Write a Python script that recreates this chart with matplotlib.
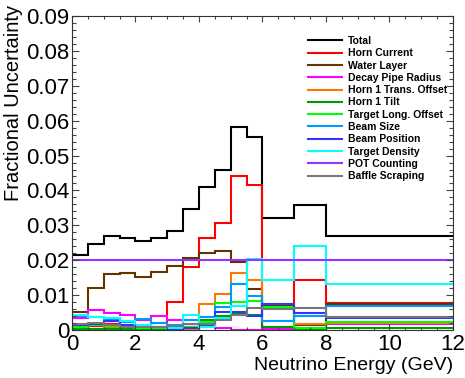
import matplotlib
matplotlib.use('Agg')
import matplotlib.pyplot as plt
import numpy as np
from matplotlib.ticker import MultipleLocator, FuncFormatter

plt.rcParams['font.family'] = ['Liberation Sans', 'DejaVu Sans']

# bin edges (GeV): 0.5 GeV bins up to 6, then 6-7, 7-8, 8-12
edges = [0, 0.5, 1, 1.5, 2, 2.5, 3, 3.5, 4, 4.5, 5, 5.5, 6, 7, 8, 12]

total = [0.0215, 0.0246, 0.0268, 0.0265, 0.0256, 0.0264, 0.0284, 0.0347,
         0.0409, 0.0458, 0.0582, 0.0553, 0.0320, 0.0359, 0.0270]
horn_current = [0.0009, 0.0011, 0.0017, 0.0009, 0.0004, 0.0006, 0.0079, 0.0181,
                0.0263, 0.0306, 0.0442, 0.0415, 0.0003, 0.0143, 0.0078]
water_layer = [0.0052, 0.0121, 0.0160, 0.0162, 0.0153, 0.0165, 0.0183, 0.0207,
               0.0221, 0.0226, 0.0194, 0.0117, 0.0069, 0.0015, 0.0074]
decay_pipe = [0.0034, 0.0056, 0.0050, 0.0042, 0.0028, 0.0040, 0.0028, 0.0010,
              0.0008, 0.0006, 0.0001, 0.0001, 0.0002, 0.0003, 0.0017]
horn1_trans = [0.0003, 0.0003, 0.0005, 0.0004, 0.0006, 0.0003, 0.0005, 0.0003,
               0.0074, 0.0102, 0.0164, 0.0143, 0.0008, 0.0017, 0.0020]
horn1_tilt = [0.0002, 0.0003, 0.0002, 0.0003, 0.0002, 0.0003, 0.0004, 0.0009,
              0.0028, 0.0041, 0.0045, 0.0042, 0.0010, 0.0004, 0.0005]
target_long = [0.0008, 0.0014, 0.0011, 0.0008, 0.0006, 0.0006, 0.0004, 0.0010,
               0.0022, 0.0076, 0.0079, 0.0083, 0.0065, 0.0007, 0.0023]
beam_size = [0.0040, 0.0036, 0.0028, 0.0022, 0.0032, 0.0020, 0.0014, 0.0028,
             0.0036, 0.0065, 0.0132, 0.0098, 0.0026, 0.0041, 0.0070]
beam_position = [0.0013, 0.0016, 0.0027, 0.0014, 0.0012, 0.0008, 0.0004, 0.0006,
                 0.0012, 0.0052, 0.0052, 0.0040, 0.0074, 0.0050, 0.0033]
target_density = [0.0042, 0.0037, 0.0033, 0.0025, 0.0015, 0.0010, 0.0006, 0.0044,
                  0.0010, 0.0035, 0.0068, 0.0203, 0.0143, 0.0241, 0.0131]
pot_counting = [0.0200] * 15
baffle = [0.0017, 0.0019, 0.0015, 0.0010, 0.0008, 0.0010, 0.0012, 0.0016,
          0.0018, 0.0030, 0.0042, 0.0062, 0.0060, 0.0062, 0.0038]

series = [
    ('Total', total, 'black'),
    ('Horn Current', horn_current, '#ff0000'),
    ('Water Layer', water_layer, '#663300'),
    ('Decay Pipe Radius', decay_pipe, '#ff00ff'),
    ('Horn 1 Trans. Offset', horn1_trans, '#ff7700'),
    ('Horn 1 Tilt', horn1_tilt, '#009900'),
    ('Target Long. Offset', target_long, '#00ff00'),
    ('Beam Size', beam_size, '#0099ff'),
    ('Beam Position', beam_position, '#3333ff'),
    ('Target Density', target_density, '#00ffff'),
    ('POT Counting', pot_counting, '#9933ff'),
    ('Baffle Scraping', baffle, '#777777'),
]

fig = plt.figure(figsize=(4.65, 3.78), dpi=100)
ax = fig.add_axes([0.1548, 0.127, 0.8194, 0.8307])

for name, vals, col in series:
    ax.stairs(vals, edges, color=col, lw=1.5, baseline=None, label=name)

ax.set_xlim(0, 12)
ax.set_ylim(0, 0.09)
ax.xaxis.set_major_locator(MultipleLocator(2))
ax.xaxis.set_minor_locator(MultipleLocator(0.5))
ax.yaxis.set_major_locator(MultipleLocator(0.01))
ax.yaxis.set_minor_locator(MultipleLocator(0.002))
ax.yaxis.set_major_formatter(FuncFormatter(lambda v, p: '0' if abs(v) < 1e-9 else '%g' % v))
ax.tick_params(which='both', direction='in', top=True, right=True, labelsize=16,
               color='#444444', width=0.8)
ax.tick_params(axis='x', which='major', length=4.5, pad=3)
ax.tick_params(axis='x', which='minor', length=2.2)
ax.tick_params(axis='y', which='major', length=5, pad=2)
ax.tick_params(axis='y', which='minor', length=3)
for s in ax.spines.values():
    s.set_linewidth(0.8)
    s.set_color('#333333')

ax.set_xlabel('Neutrino Energy (GeV)', fontsize=14, loc='right')
ax.set_ylabel('Fractional Uncertainty', fontsize=14.5, loc='top')
ax.xaxis.set_label_coords(1.0, -0.085)
ax.yaxis.set_label_coords(-0.128, 1.035)

leg = fig.legend(loc='upper left', bbox_to_anchor=(308 / 465, 1 - 36 / 378),
                 frameon=False, prop={'size': 7.5, 'weight': 'bold'},
                 handlelength=3.3, handletextpad=0.55, labelspacing=0.22,
                 borderpad=0, borderaxespad=0)

fig.savefig('out.png', dpi=100)
